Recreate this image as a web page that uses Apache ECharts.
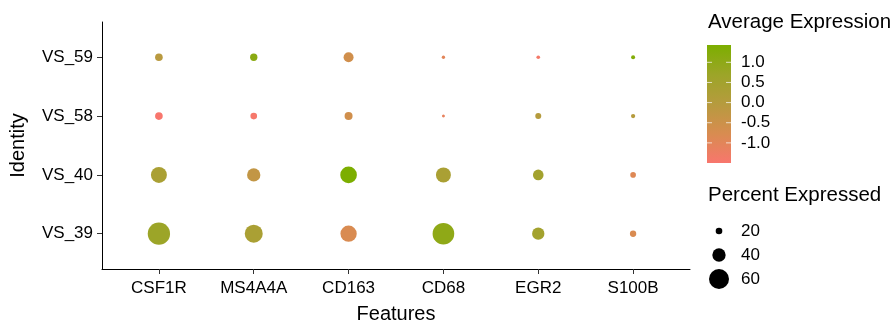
<!DOCTYPE html>
<html>
<head>
<meta charset="utf-8">
<script src="https://cdn.jsdelivr.net/npm/echarts@6/dist/echarts.min.js"></script>
<style>
html,body{margin:0;padding:0;background:#fff;}
#chart{width:896px;height:329px;}
</style>
</head>
<body>
<div id="chart"></div>
<script>
// ---- data ----
const features = ['CSF1R', 'MS4A4A', 'CD163', 'CD68', 'EGR2', 'S100B'];
const identities = ['VS_39', 'VS_40', 'VS_58', 'VS_59']; // bottom to top

// average expression (scaled) per identity, in feature order
const avgVS39 = [0.7, 0.3, -0.8, 1.0, 0.5, -0.8];
const avgVS40 = [0.3, -0.3, 1.43, 0.3, 0.5, -0.9];
const avgVS58 = [-1.5, -1.45, -0.6, -1.1, 0.0, 0.0];
const avgVS59 = [-0.1, 1.1, -0.6, -1.0, -1.4, 1.3];

// percent expressed per identity, in feature order
const pctVS39 = [67, 54, 49, 65, 37, 19];
const pctVS40 = [48, 40, 50, 45, 32, 17];
const pctVS58 = [23, 20, 24, 9, 18, 13];
const pctVS59 = [23, 22, 30, 10, 11, 12];

const colorTicks = [1.0, 0.5, 0.0, -0.5, -1.0];
const colorTickLabels = ['1.0', '0.5', '0.0', '-0.5', '-1.0'];
const sizeTicks = [20, 40, 60];
const colorMin = -1.5, colorMax = 1.43;

// ---- styles ----
const FONT = 'Liberation Sans, Arial, Helvetica, sans-serif';
const gradStops = ['#F8766D', '#D88C50', '#B69B3E', '#9CA528', '#7CAE00'];
const sizeFn = p => 0.333 * p;

const avgRows = [avgVS39, avgVS40, avgVS58, avgVS59];
const pctRows = [pctVS39, pctVS40, pctVS58, pctVS59];
const data = [];
avgRows.forEach((row, yi) => {
  row.forEach((v, xi) => {
    data.push([xi + 1, yi + 1, v, pctRows[yi][xi]]);
  });
});

const chart = echarts.init(document.getElementById('chart'), null, {renderer: 'canvas'});

// legend geometry
const cbX = 707, cbY = 45, cbW = 24, cbH = 118;
const cbPos = v => cbY + (colorMax - v) / (colorMax - colorMin) * cbH;
const graphics = [];
graphics.push({type: 'text', left: 708, top: 12, style: {text: 'Average Expression', font: '20.5px ' + FONT, fill: '#000'}});
graphics.push({
  type: 'rect', shape: {x: cbX, y: cbY, width: cbW, height: cbH},
  style: {fill: new echarts.graphic.LinearGradient(0, 1, 0, 0,
    gradStops.map((c, i) => ({offset: i / (gradStops.length - 1), color: c})))}
});
colorTicks.forEach((v, i) => {
  const y = cbPos(v);
  graphics.push({type: 'line', shape: {x1: cbX, y1: y, x2: cbX + 5, y2: y}, style: {stroke: 'rgba(255,255,255,0.7)', lineWidth: 1}});
  graphics.push({type: 'line', shape: {x1: cbX + cbW - 5, y1: y, x2: cbX + cbW, y2: y}, style: {stroke: 'rgba(255,255,255,0.7)', lineWidth: 1}});
  graphics.push({type: 'text', x: 741, y: y, style: {text: colorTickLabels[i], font: '17px ' + FONT, fill: '#000', textVerticalAlign: 'middle'}});
});
graphics.push({type: 'text', left: 708, top: 185, style: {text: 'Percent Expressed', font: '20.5px ' + FONT, fill: '#000'}});
sizeTicks.forEach((p, i) => {
  const y = 231 + i * 24;
  graphics.push({type: 'circle', shape: {cx: 719, cy: y, r: sizeFn(p) / 2}, style: {fill: '#000'}});
  graphics.push({type: 'text', x: 741, y: y, style: {text: String(p), font: '17px ' + FONT, fill: '#000', textVerticalAlign: 'middle'}});
});

const axisCommon = {
  type: 'value',
  splitLine: {show: false},
  axisLine: {show: true, onZero: false, lineStyle: {color: '#000', width: 1}},
  axisTick: {show: true, length: 5, lineStyle: {color: '#333', width: 1}},
  axisLabel: {color: '#000', fontSize: 17, fontFamily: FONT},
  nameTextStyle: {color: '#000', fontSize: 20, fontFamily: FONT},
  nameLocation: 'middle'
};

chart.setOption({
  animation: false,
  backgroundColor: '#fff',
  grid: {left: 101, right: 206, top: 22, bottom: 52, containLabel: false},
  xAxis: Object.assign({}, axisCommon, {
    min: 0.4, max: features.length + 0.6,
    name: 'Features', nameGap: 35,
    axisTick: Object.assign({}, axisCommon.axisTick, {customValues: features.map((f, i) => i + 1)}),
    axisLabel: Object.assign({}, axisCommon.axisLabel, {
      margin: 11,
      customValues: features.map((f, i) => i + 1),
      formatter: v => features[Math.round(v) - 1] || ''
    })
  }),
  yAxis: Object.assign({}, axisCommon, {
    min: 0.4, max: identities.length + 0.6,
    name: 'Identity', nameGap: 74,
    axisTick: Object.assign({}, axisCommon.axisTick, {customValues: identities.map((f, i) => i + 1)}),
    axisLabel: Object.assign({}, axisCommon.axisLabel, {
      margin: 9,
      customValues: identities.map((f, i) => i + 1),
      formatter: v => identities[Math.round(v) - 1] || ''
    })
  }),
  visualMap: {
    type: 'continuous', show: false, dimension: 2,
    min: colorMin, max: colorMax,
    inRange: {color: gradStops}
  },
  series: [{
    type: 'scatter',
    data: data,
    symbolSize: d => sizeFn(d[3]),
    itemStyle: {opacity: 1}
  }],
  graphic: graphics
});
</script>
</body>
</html>
